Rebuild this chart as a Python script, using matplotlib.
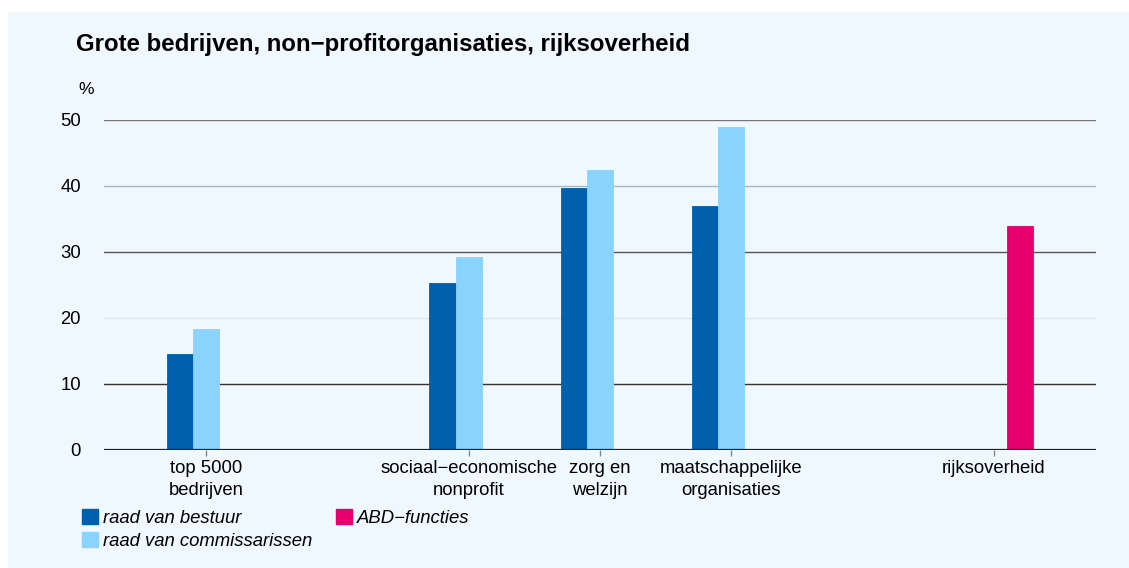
import matplotlib
matplotlib.use("Agg")
import matplotlib.pyplot as plt
from matplotlib.patches import Rectangle, Patch

plt.rcParams['font.family'] = ['Liberation Sans', 'DejaVu Sans']

categories = ["top 5000\nbedrijven", "sociaal\u2212economische\nnonprofit", "zorg en\nwelzijn",
              "maatschappelijke\norganisaties", "rijksoverheid"]
cat_pos = [0, 2, 3, 4, 6]
bestuur = [14.5, 25.3, 39.7, 36.9, None]
commissarissen = [18.3, 29.2, 42.4, 48.9, None]
abd = [None, None, None, None, 34.0]
series_names = ["raad van bestuur", "raad van commissarissen", "ABD\u2212functies"]
yticks = [0, 10, 20, 30, 40, 50]
title = "Grote bedrijven, non\u2212profitorganisaties, rijksoverheid"

c_dark = "#0060ae"
c_light = "#8ad2ff"
c_mag = "#e5006d"
bg = "#eef8fe"
fs = 13.3

W, H = 1129, 568
fig = plt.figure(figsize=(W / 100, H / 100), dpi=100)
fig.patch.set_facecolor("white")
fig.patches.append(Rectangle((8 / W, 0), 1, 1 - 12 / H, transform=fig.transFigure,
                             facecolor=bg, edgecolor="none", zorder=-10))

ax = fig.add_axes([104 / W, 1 - 450 / H, (1096 - 104) / W, (450 - 120) / H])
ax.set_facecolor("none")
w = 0.2

def draw(vals, off, color):
    xs = [p + off for p, v in zip(cat_pos, vals) if v is not None]
    ys = [v for v in vals if v is not None]
    ax.bar(xs, ys, width=w, color=color, edgecolor=color, linewidth=0.6, zorder=3)

draw(bestuur, -w, c_dark)
draw(commissarissen, 0, c_light)
draw(abd, w, c_mag)

ax.set_xlim(-0.78, 6.78)
ax.set_ylim(0, 50)
grid_colors = {10: "#333333", 20: "#dde5ec", 30: "#555555", 40: "#aab5be", 50: "#777777"}
for yv in yticks[1:]:
    ax.axhline(yv, color=grid_colors[yv], linewidth=1.0, zorder=1)
ax.axhline(0, color="#222222", linewidth=1.6, zorder=4)

for s in ax.spines.values():
    s.set_visible(False)
ax.set_yticks(yticks)
ax.set_yticklabels([str(v) for v in yticks], fontsize=fs)
ax.tick_params(axis="y", length=0, pad=16.5)
ax.set_xticks(cat_pos)
ax.set_xticklabels(categories, fontsize=fs, linespacing=1.32)
ax.tick_params(axis="x", length=4, color="#888888", width=1, pad=3.5)

fig.text(76 / W, 1 - 44 / H, title, fontsize=17.3, fontweight="bold", va="center", ha="left")
fig.text(86 / W, 1 - 90 / H, "%", fontsize=12.5, va="center", ha="center")

handles = [Patch(facecolor=c_dark, edgecolor=c_dark),
           Patch(facecolor=c_light, edgecolor=c_light),
           Patch(facecolor=c_mag, edgecolor=c_mag)]
leg = fig.legend(handles, series_names, loc="upper left", bbox_to_anchor=(82 / W, 1 - 509 / H),
                 ncol=2, frameon=False, borderpad=0, borderaxespad=0, handlelength=0.86,
                 handleheight=0.86, handletextpad=0.3, labelspacing=0.3, columnspacing=1.25,
                 prop={"style": "italic", "size": fs})

fig.savefig("out.png", dpi=100, facecolor=fig.get_facecolor())
